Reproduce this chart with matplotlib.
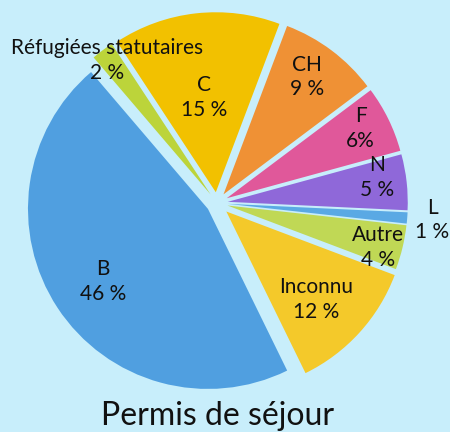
import matplotlib
matplotlib.use("Agg")
import matplotlib.pyplot as plt
import numpy as np

categories = ["Réfugiées statutaires", "C", "CH", "F", "N", "L", "Autre", "Inconnu", "B"]
values = [2, 15, 9, 6, 5, 1, 4, 12, 46]
pct_labels = ["2 %", "15 %", "9 %", "6%", "5 %", "1 %", "4 %", "12 %", "46 %"]
title = "Permis de séjour"

colors = ["#bcd43a", "#f2c100", "#ef9135", "#e0589a", "#8f68d9",
          "#5aa9e4", "#c0d855", "#f4c92a", "#509fe0"]
explode = [0.06, 0.06, 0.06, 0.06, 0.06, 0.06, 0.06, 0.07, 0.06]
label_dist = [0.94, 0.53, 0.80, 0.84, 0.84, 1.14, 0.87, 0.70, 0.71]
label_rot = [1, 1, 1.5, 1.5, 3, 0, -2, -2, 1.5]

bg = "#c8eefb"
plt.rcParams['font.family'] = ['Lato', 'DejaVu Sans']

fig = plt.figure(figsize=(4.5, 4.32), dpi=100, facecolor=bg)
ax = fig.add_axes([0, 0, 1, 1])
ax.set_facecolor(bg)

wedges, _ = ax.pie(values, colors=colors, explode=explode, startangle=130.5,
                   counterclock=False, radius=1.0, center=(0, 0),
                   wedgeprops=dict(linewidth=0))

for w, cat, pl, d, dr in zip(wedges, categories, pct_labels, label_dist, label_rot):
    mid = np.deg2rad((w.theta1 + w.theta2) / 2 + dr)
    cx, cy = w.center
    x = cx + d * w.r * np.cos(mid)
    y = cy + d * w.r * np.sin(mid)
    ax.text(x, y, cat + "\n" + pl, ha="center", va="center", fontsize=15,
            linespacing=1.3, color="#111111")

ax.set_xlim(-217 / 180, (450 - 217) / 180)
ax.set_ylim((203 - 432) / 180, 203 / 180)
ax.set_aspect("equal")
ax.axis("off")

fig.text(218 / 450, 1 - 425 / 432, title, ha="center", va="baseline",
         fontsize=23, color="#111111")

fig.savefig("out.png", dpi=100, facecolor=bg)
